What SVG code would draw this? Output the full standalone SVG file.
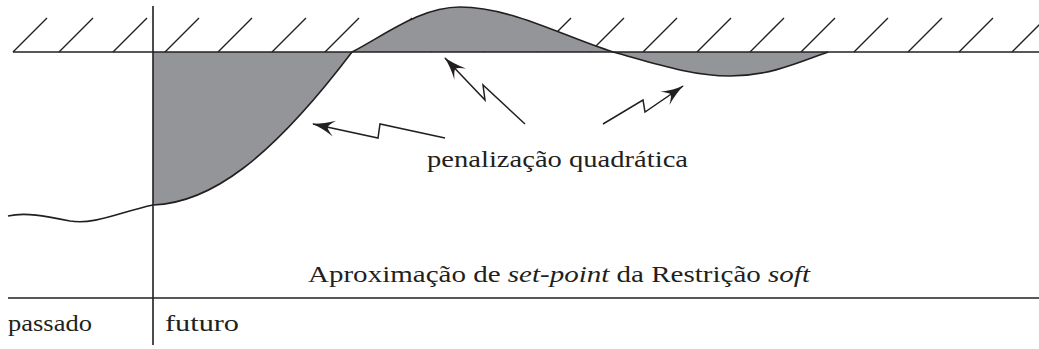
<svg xmlns="http://www.w3.org/2000/svg" width="1039" height="349" viewBox="0 0 1039 349">
<style>
.ln{stroke:#231f20;stroke-width:1.6;fill:none}
.hatch{stroke:#231f20;stroke-width:1.4;fill:none}
.fillg{fill:#939598;stroke:none}
.arr{stroke:#231f20;stroke-width:1.5;fill:none;marker-end:url(#ah)}
.t{font-family:"Liberation Serif","DejaVu Serif",serif;fill:#231f20}
</style>
<defs>
<marker id="ah" markerUnits="userSpaceOnUse" viewBox="-24 -10 26 20" markerWidth="26" markerHeight="20" refX="0" refY="0" orient="auto">
<path d="M1,0 Q-10,-2 -22,-8 Q-15,-2 -15,0 Q-15,2 -22,8 Q-10,2 1,0 Z" fill="#231f20"/>
</marker>
</defs>
<rect width="1039" height="349" fill="#fff"/>
<g id="hatching">
<path class="hatch" d="M13,52 L47,18 M59,52 L93,18 M113,52 L147,18 M165,52 L199,18 M218,52 L252,18 M272,52 L306,18 M325,52 L359,18 M378,52 L412,18 M431,52 L465,18 M484,52 L518,18 M537,52 L571,18 M590,52 L624,18 M643,52 L677,18 M697,52 L731,18 M750,52 L784,18 M801,52 L835,18 M854,52 L888,18 M908,52 L942,18 M959,52 L993,18 M1012,52 L1046,18"/>
</g>
<g id="penalty-areas">
<path class="fillg" d="M153,52 L153,205 C210,203 270,160 352,52 Z"/>
<path class="fillg" d="M352,52 C385,35 420,7 460,7 C510,7 560,35 613,52 Z"/>
<path class="fillg" d="M613,52 C650,62 690,76 730,76 C770,76 800,62 828,52 Z"/>
</g>
<g id="constraint-line">
<path class="ln" d="M13,52 L1039,52"/>
</g>
<g id="time-axis">
<path class="ln" d="M153,6 L153,345"/>
<path class="ln" d="M8,298 L1039,298"/>
</g>
<g id="trajectory">
<path class="ln" d="M8,216 C25,212 45,216 70,221 C95,225 120,212 153,205 C210,203 270,160 352,52 C385,35 420,7 460,7 C510,7 560,35 613,52 C650,62 690,76 730,76 C770,76 800,62 828,52"/>
</g>
<g id="connectors">
<path class="arr" d="M445,138 L380,124 L378,138 L313,124"/>
<path class="arr" d="M525,124 L483,85 L485,100 L445,58"/>
<path class="arr" d="M603,124 L643,100 L645,112 L683,86"/>
</g>
<g id="labels">
<text class="t" x="427" y="167" font-size="24" textLength="261" lengthAdjust="spacingAndGlyphs">penalização quadrática</text>
<text class="t" x="308" y="282" font-size="24" textLength="502" lengthAdjust="spacingAndGlyphs">Aproximação de <tspan font-style="italic">set-point</tspan> da Restrição <tspan font-style="italic">soft</tspan></text>
<text class="t" x="8" y="331" font-size="24" textLength="84" lengthAdjust="spacingAndGlyphs">passado</text>
<text class="t" x="165" y="331" font-size="24" textLength="74" lengthAdjust="spacingAndGlyphs">futuro</text>
</g>
</svg>
